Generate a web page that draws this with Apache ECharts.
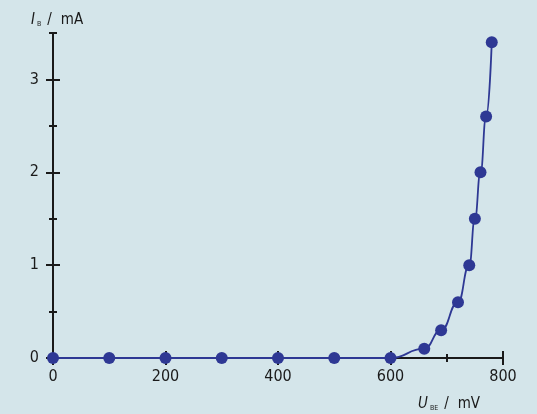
<!DOCTYPE html>
<html>
<head>
<meta charset="utf-8">
<script src="https://cdn.jsdelivr.net/npm/echarts@6/dist/echarts.min.js"></script>
<style>
html,body{margin:0;padding:0;background:#d4e5ea;}
#c{width:537px;height:414px;}
</style>
</head>
<body>
<div id="c"></div>
<script>
// Data
var ubeValues = [0, 100, 200, 300, 400, 500, 600, 660, 690, 720, 740, 750, 760, 770, 780]; // mV
var ibValues  = [0, 0, 0, 0, 0, 0, 0, 0.1, 0.3, 0.6, 1.0, 1.5, 2.0, 2.6, 3.4];          // mA
var xMajorTicks = [0, 200, 400, 600, 800];
var xMinorTicks = [100, 300, 500, 700];
var yMajorTicks = [0, 1, 2, 3];
var yMinorTicks = [0.5, 1.5, 2.5, 3.5];

var INK = '#1a1a1a';
var BLUE = '#2e3894';
var FONT = 'DejaVu Sans Condensed';

var points = ubeValues.map(function (u, i) { return [u, ibValues[i]]; });

function xAx(extra) {
  var base = {
    type: 'value', min: 0, max: 800, position: 'bottom', gridIndex: 0,
    splitLine: {show: false},
    axisLine: {show: false, onZero: false},
    axisTick: {show: false},
    axisLabel: {show: false}
  };
  return Object.assign(base, extra);
}
function yAx(extra) {
  var base = {
    type: 'value', min: 0, max: 3.5, position: 'left', gridIndex: 0,
    splitLine: {show: false},
    axisLine: {show: false, onZero: false},
    axisTick: {show: false},
    axisLabel: {show: false}
  };
  return Object.assign(base, extra);
}

var nameRich = {
  i: {fontFamily: FONT, fontSize: 15, fontStyle: 'italic', fill: INK, verticalAlign: 'bottom'},
  s: {fontFamily: FONT, fontSize: 7, fill: INK, verticalAlign: 'bottom', padding: [0, 6, 0, 2]},
  n: {fontFamily: FONT, fontSize: 15, fill: INK, verticalAlign: 'bottom', padding: [0, 9, 0, 0]},
  u: {fontFamily: FONT, fontSize: 15, fill: INK, verticalAlign: 'bottom'}
};

var chart = echarts.init(document.getElementById('c'), null, {renderer: 'canvas'});
chart.setOption({
  backgroundColor: '#d4e5ea',
  animation: false,
  grid: {left: 53, right: 34, top: 33, bottom: 56, containLabel: false},
  xAxis: [
    xAx({
      interval: 200,
      axisLine: {show: true, onZero: false, lineStyle: {color: INK, width: 2}},
      axisLabel: {show: true, customValues: xMajorTicks, margin: 11, color: INK, fontSize: 16, fontFamily: FONT}
    }),
    xAx({offset: -7, axisTick: {show: true, customValues: xMajorTicks, length: 14, lineStyle: {color: INK, width: 2}}}),
    xAx({offset: -4, axisTick: {show: true, customValues: xMinorTicks, length: 8, lineStyle: {color: INK, width: 2}}})
  ],
  yAxis: [
    yAx({
      interval: 0.5,
      axisLine: {show: true, onZero: false, lineStyle: {color: INK, width: 2}},
      axisLabel: {show: true, customValues: yMajorTicks, margin: 14, color: INK, fontSize: 16, fontFamily: FONT}
    }),
    yAx({offset: -7, axisTick: {show: true, customValues: yMajorTicks, length: 14, lineStyle: {color: INK, width: 2}}}),
    yAx({offset: -4, axisTick: {show: true, customValues: yMinorTicks, length: 8, lineStyle: {color: INK, width: 2}}})
  ],
  graphic: [
    {
      type: 'text', left: 31, top: 13, z: 10,
      style: {text: '{i|I}{s|B}{n|/}{u|mA}', rich: nameRich}
    },
    {
      type: 'text', left: 418, top: 397, z: 10,
      style: {text: '{i|U}{s|BE}{n|/}{u|mV}', rich: nameRich}
    }
  ],
  series: [{
    type: 'line',
    xAxisIndex: 0, yAxisIndex: 0,
    data: points,
    smooth: 0.5,
    smoothMonotone: 'x',
    symbol: 'circle',
    symbolSize: 12,
    itemStyle: {color: BLUE},
    lineStyle: {color: BLUE, width: 1.8},
    z: 5
  }]
});
</script>
</body>
</html>
